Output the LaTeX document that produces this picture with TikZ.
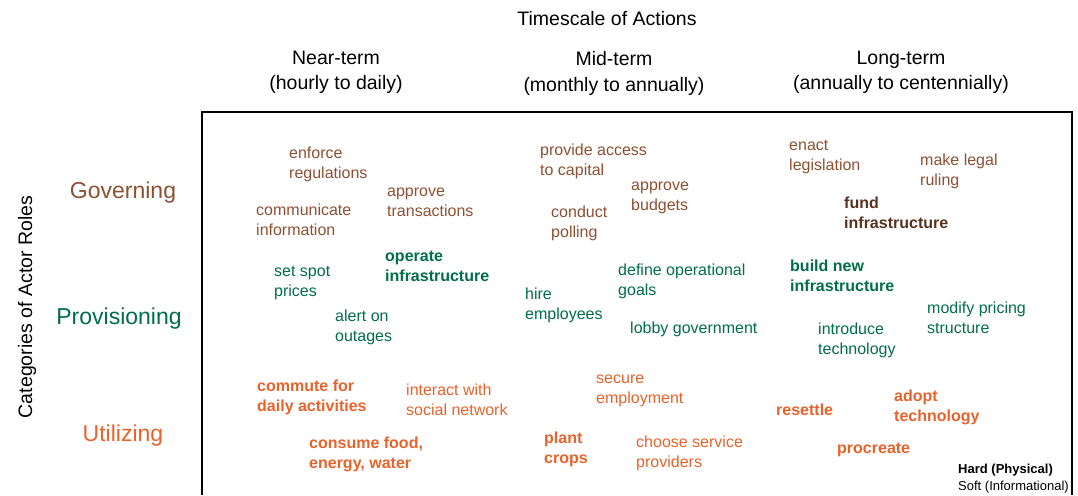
\documentclass[tikz,border=0pt]{standalone}
\usepackage{fontspec}
\setmainfont{Liberation Sans}
\usepackage{tikz}
\usetikzlibrary{positioning}

\definecolor{govcol}{RGB}{142,80,50}
\definecolor{fundcol}{RGB}{88,50,30}
\definecolor{provcol}{RGB}{0,110,72}
\definecolor{utilcol}{RGB}{234,98,42}

\begin{document}
\begin{tikzpicture}[x=1pt,y=-1pt,
    itm/.style={font=\fontsize{16}{20}\selectfont,align=left,anchor=base west,inner sep=0pt},
    gov/.style={itm,text=govcol},
    prov/.style={itm,text=provcol},
    util/.style={itm,text=utilcol},
    hard/.style={font=\fontsize{16}{20}\selectfont\bfseries},
    hdr/.style={font=\fontsize{19.5}{25}\selectfont,align=center,anchor=base,inner sep=0pt},
    role/.style={font=\fontsize{23}{28}\selectfont,anchor=base,inner sep=0pt}]
            \useasboundingbox (0,0) rectangle (1078,495);
            \draw[line width=2pt] (202,495) |- (1072,112) -- (1072,495);

            % multi-line nodes sit on the baseline of their last line
            \node[hdr] (ts) at (607,26) {Timescale of Actions};
            \node[hdr] (near) at (336,89) {Near-term\\(hourly to daily)};
            \node[hdr] (mid) at (614,91) {Mid-term\\(monthly to annually)};
            \node[hdr] (long) at (901,89) {Long-term\\(annually to centennially)};

            \node[role,text=govcol] (rg) at (123,198) {Governing};
            \node[role,text=provcol] (rp) at (119,324) {Provisioning};
            \node[role,text=utilcol] (ru) at (123,441) {Utilizing};
            \node[font=\fontsize{19.5}{25}\selectfont,rotate=90] (cat) at (27,307) {Categories of Actor Roles};

            % governing
            \node[gov] (g1) at (289,178) {enforce\\regulations};
            \node[gov] (g2) at (256,235) {communicate\\information};
            \node[gov] (g3) at (387,216) {approve\\transactions};
            \node[gov] (g4) at (540,175) {provide access\\to capital};
            \node[gov] (g5) at (631,210) {approve\\budgets};
            \node[gov] (g6) at (551,237) {conduct\\polling};
            \node[gov] (g7) at (789,170) {enact\\legislation};
            \node[gov] (g8) at (920,185) {make legal\\ruling};
            \node[gov,hard,text=fundcol] (g9) at (844,228) {fund\\infrastructure};

            % provisioning
            \node[prov,hard] (p1) at (385,281) {operate\\infrastructure};
            \node[prov] (p2) at (274,296) {set spot\\prices};
            \node[prov] (p3) at (335,341) {alert on\\outages};
            \node[prov] (p4) at (525,319) {hire\\employees};
            \node[prov] (p5) at (618,295) {define operational\\goals};
            \node[prov] (p6) at (630,333) {lobby government};
            \node[prov,hard] (p7) at (790,291) {build new\\infrastructure};
            \node[prov] (p8) at (927,333) {modify pricing\\structure};
            \node[prov] (p9) at (818,354) {introduce\\technology};

            % utilizing
            \node[util,hard] (u1) at (257,411) {commute for\\daily activities};
            \node[util] (u2) at (406,415) {interact with\\social network};
            \node[util,hard] (u3) at (309,468) {consume food,\\energy, water};
            \node[util] (u4) at (596,403) {secure\\employment};
            \node[util,hard] (u5) at (544,463) {plant\\crops};
            \node[util] (u6) at (636,467) {choose service\\providers};
            \node[util,hard] (u7) at (776,415) {resettle};
            \node[util,hard] (u8) at (894,421) {adopt\\technology};
            \node[util,hard] (u9) at (837,453) {procreate};

            \node[itm,font=\fontsize{13}{17}\selectfont] (key) at (958,490) {\textbf{Hard (Physical)}\\Soft (Informational)};
          \end{tikzpicture}
\end{document}
